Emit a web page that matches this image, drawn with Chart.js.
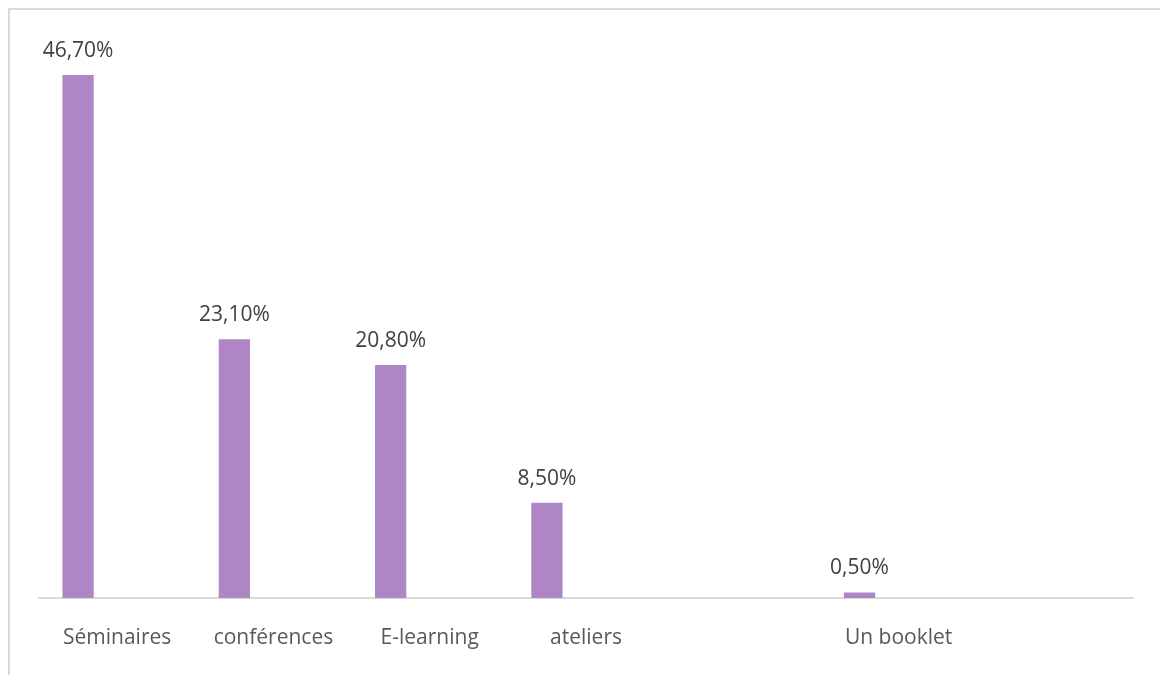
<!DOCTYPE html>
<html>
<head>
<meta charset="utf-8">
<script src="https://cdn.jsdelivr.net/npm/chart.js@4"></script>
<style>
  html, body { margin: 0; padding: 0; background: #fff; overflow: hidden; }
  #wrap { position: relative; width: 1160px; height: 675px; }
  #frame {
    position: absolute; left: 8px; top: 8px; width: 1200px; height: 720px;
    border: 2px solid #d9d9d9; box-sizing: border-box; pointer-events: none;
  }
  canvas { position: absolute; left: 0; top: 0; }
</style>
</head>
<body>
<div id="wrap">
  <div id="frame"></div>
  <canvas id="chart" width="1160" height="675"></canvas>
</div>
<script>
// Formats de formation (part des répondants, %)
const categories = ['Séminaires', 'conférences', 'E-learning', 'ateliers', '', 'Un booklet', ''];
const shares = [46.7, 23.1, 20.8, 8.5, null, 0.5, null];
const emptySeries = [null, null, null, null, null, null, null];

const FONT = '"Open Sans", "DejaVu Sans", sans-serif';

function formatPct(v) {
  return v.toFixed(2).replace('.', ',') + '%';
}

// value labels above each bar
const valueLabels = {
  id: 'valueLabels',
  afterDatasetsDraw(chart) {
    const ctx = chart.ctx;
    const meta = chart.getDatasetMeta(0);
    ctx.save();
    ctx.font = '21px ' + FONT;
    ctx.fillStyle = '#404040';
    ctx.textAlign = 'center';
    ctx.textBaseline = 'alphabetic';
    meta.data.forEach((bar, i) => {
      const v = shares[i];
      if (v == null) return;
      ctx.fillText(formatPct(v), bar.x, bar.y - 18);
    });
    ctx.restore();
  }
};

new Chart(document.getElementById('chart'), {
  type: 'bar',
  data: {
    labels: categories,
    datasets: [
      {
        data: shares,
        backgroundColor: '#ae86c6',
        categoryPercentage: 1.0,
        barPercentage: 0.4
      },
      {
        data: emptySeries,
        backgroundColor: 'transparent',
        categoryPercentage: 1.0,
        barPercentage: 0.4
      }
    ]
  },
  options: {
    responsive: false,
    animation: false,
    layout: { padding: { left: 39, right: 27, top: 38, bottom: 0 } },
    plugins: {
      legend: { display: false },
      tooltip: { enabled: false }
    },
    scales: {
      x: {
        grid: { display: false, drawTicks: false },
        border: { color: '#d9d9d9', width: 2 },
        ticks: {
          color: '#595959',
          font: { family: FONT, size: 21 },
          padding: 27,
          autoSkip: false,
          maxRotation: 0
        },
        afterFit(scale) { scale.height = 77; }
      },
      y: {
        display: false,
        min: 0,
        max: 50
      }
    }
  },
  plugins: [valueLabels]
});
</script>
</body>
</html>
